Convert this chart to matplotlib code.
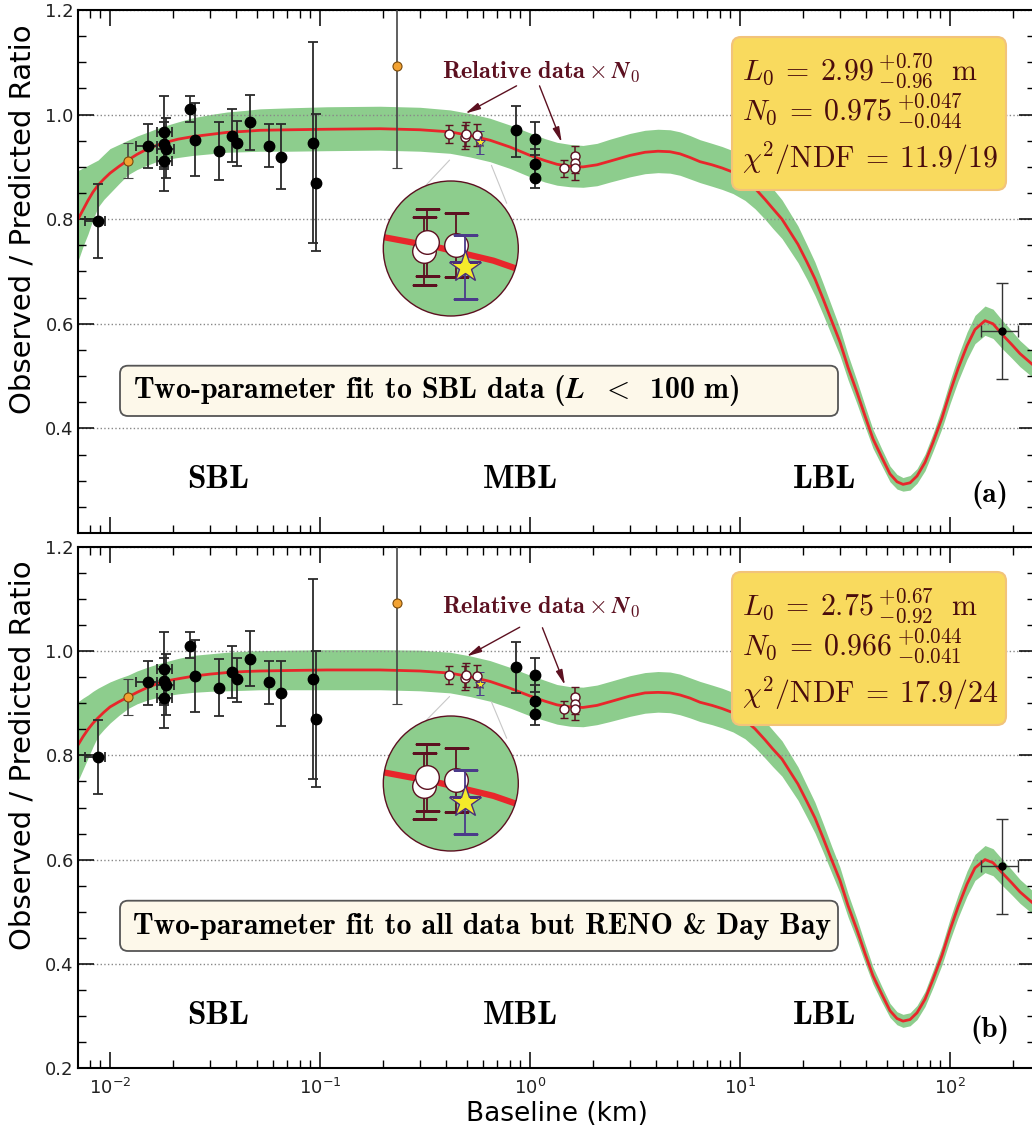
import numpy as np
import matplotlib
matplotlib.use('Agg')
import matplotlib.pyplot as plt
from matplotlib.patches import Circle, FancyBboxPatch, ConnectionPatch
from matplotlib.transforms import IdentityTransform
from matplotlib.ticker import MultipleLocator, FormatStrFormatter
from matplotlib.lines import Line2D
from matplotlib.collections import LineCollection

plt.rcParams['mathtext.fontset'] = 'cm'

W, H = 1032, 1133
GREEN = '#8dcd8d'
RED = '#e8262b'
MAROON = '#5c1020'
BOXTXT = '#4a0c0c'

# fit curves and 1-sigma bands
fit_L = [0.00704, 0.00744, 0.00786, 0.00830, 0.00877, 0.00936, 0.0100, 0.01104, 0.01218, 0.01345,
         0.01500, 0.01638, 0.01807, 0.02108, 0.02485, 0.02994, 0.03606, 0.04394, 0.05179, 0.07197,
         0.1080, 0.1931, 0.2994, 0.4159, 0.5179, 0.6449, 0.8030, 1.000, 1.179, 1.345,
         1.551, 1.788, 2.085, 2.404, 2.994, 3.528, 4.070, 4.642, 5.179, 5.780,
         6.449, 7.356, 8.209, 9.261, 10.56, 11.79, 13.15, 14.36, 15.85, 17.30,
         18.88, 20.84, 22.75, 24.85, 27.42, 29.94, 32.68, 36.07, 39.37, 42.98,
         47.43, 51.79, 55.93, 59.75, 64.55, 69.66, 76.05, 82.99, 91.6, 100.0,
         109.2, 120.5, 131.5, 146.8, 160.3, 178.8, 197.2, 215.4, 254.0]

fit_a = [0.800, 0.818, 0.836, 0.852, 0.865, 0.877, 0.888, 0.901, 0.913, 0.924,
         0.934, 0.940, 0.946, 0.953, 0.958, 0.962, 0.966, 0.968, 0.970, 0.971,
         0.972, 0.973, 0.971, 0.967, 0.960, 0.951, 0.938, 0.922, 0.912, 0.905,
         0.901, 0.900, 0.904, 0.911, 0.922, 0.928, 0.930, 0.929, 0.925, 0.918,
         0.910, 0.904, 0.898, 0.890, 0.876, 0.859, 0.838, 0.820, 0.800, 0.776,
         0.752, 0.718, 0.686, 0.648, 0.604, 0.565, 0.517, 0.469, 0.424, 0.380,
         0.344, 0.313, 0.298, 0.293, 0.296, 0.309, 0.335, 0.373, 0.420, 0.469,
         0.514, 0.558, 0.589, 0.606, 0.600, 0.578, 0.560, 0.543, 0.518]
band_a_hi = [0.893, 0.898, 0.903, 0.908, 0.913, 0.924, 0.935, 0.943, 0.951, 0.959,
             0.966, 0.972, 0.978, 0.986, 0.994, 1.000, 1.005, 1.008, 1.011, 1.013,
             1.015, 1.016, 1.014, 1.009, 1.002, 0.993, 0.980, 0.965, 0.954, 0.947,
             0.943, 0.941, 0.945, 0.953, 0.964, 0.970, 0.972, 0.971, 0.967, 0.960,
             0.952, 0.945, 0.939, 0.931, 0.916, 0.898, 0.876, 0.858, 0.837, 0.812,
             0.787, 0.751, 0.718, 0.678, 0.632, 0.591, 0.541, 0.491, 0.444, 0.398,
             0.360, 0.328, 0.312, 0.306, 0.310, 0.323, 0.351, 0.390, 0.440, 0.491,
             0.538, 0.584, 0.616, 0.634, 0.628, 0.605, 0.586, 0.568, 0.542]
band_a_lo = [0.720, 0.748, 0.772, 0.800, 0.823, 0.838, 0.850, 0.868, 0.885, 0.895,
             0.903, 0.909, 0.914, 0.918, 0.922, 0.925, 0.928, 0.929, 0.930, 0.930,
             0.931, 0.932, 0.930, 0.926, 0.919, 0.910, 0.897, 0.881, 0.871, 0.865,
             0.862, 0.861, 0.864, 0.871, 0.881, 0.887, 0.889, 0.888, 0.884, 0.877,
             0.870, 0.863, 0.857, 0.849, 0.836, 0.820, 0.800, 0.782, 0.763, 0.740,
             0.717, 0.685, 0.654, 0.618, 0.576, 0.539, 0.493, 0.447, 0.404, 0.362,
             0.328, 0.298, 0.284, 0.280, 0.282, 0.295, 0.319, 0.356, 0.400, 0.447,
             0.490, 0.532, 0.562, 0.578, 0.572, 0.551, 0.534, 0.518, 0.494]

fit_b = [0.820, 0.836, 0.850, 0.862, 0.872, 0.883, 0.893, 0.903, 0.912, 0.921,
         0.930, 0.936, 0.942, 0.947, 0.952, 0.956, 0.959, 0.961, 0.962, 0.963,
         0.964, 0.964, 0.962, 0.958, 0.951, 0.942, 0.929, 0.914, 0.904, 0.897,
         0.893, 0.892, 0.896, 0.903, 0.914, 0.920, 0.921, 0.920, 0.916, 0.910,
         0.902, 0.896, 0.890, 0.882, 0.868, 0.851, 0.830, 0.812, 0.793, 0.769,
         0.745, 0.711, 0.680, 0.642, 0.598, 0.560, 0.512, 0.465, 0.420, 0.377,
         0.341, 0.310, 0.295, 0.290, 0.293, 0.306, 0.332, 0.370, 0.416, 0.465,
         0.509, 0.553, 0.584, 0.600, 0.594, 0.573, 0.555, 0.538, 0.513]
band_b_hi = [0.903, 0.910, 0.916, 0.923, 0.929, 0.935, 0.941, 0.948, 0.954, 0.962,
             0.969, 0.974, 0.979, 0.986, 0.992, 0.995, 0.998, 1.000, 1.001, 1.002,
             1.003, 1.003, 1.002, 0.998, 0.991, 0.982, 0.969, 0.954, 0.944, 0.936,
             0.932, 0.931, 0.935, 0.942, 0.953, 0.959, 0.961, 0.960, 0.956, 0.949,
             0.942, 0.935, 0.929, 0.921, 0.906, 0.888, 0.866, 0.848, 0.828, 0.803,
             0.778, 0.742, 0.710, 0.670, 0.624, 0.585, 0.535, 0.486, 0.439, 0.394,
             0.356, 0.324, 0.308, 0.303, 0.306, 0.320, 0.347, 0.387, 0.435, 0.486,
             0.532, 0.578, 0.610, 0.627, 0.621, 0.599, 0.580, 0.562, 0.536]
band_b_lo = [0.751, 0.773, 0.795, 0.817, 0.837, 0.850, 0.862, 0.877, 0.890, 0.899,
             0.906, 0.910, 0.914, 0.918, 0.921, 0.923, 0.924, 0.925, 0.926, 0.926,
             0.926, 0.926, 0.924, 0.920, 0.913, 0.904, 0.891, 0.876, 0.867, 0.860,
             0.856, 0.855, 0.859, 0.865, 0.875, 0.881, 0.883, 0.882, 0.878, 0.872,
             0.865, 0.859, 0.853, 0.845, 0.832, 0.815, 0.795, 0.778, 0.760, 0.737,
             0.714, 0.681, 0.651, 0.615, 0.573, 0.536, 0.490, 0.445, 0.402, 0.361,
             0.326, 0.297, 0.283, 0.278, 0.281, 0.293, 0.318, 0.354, 0.398, 0.445,
             0.488, 0.530, 0.560, 0.575, 0.569, 0.549, 0.532, 0.516, 0.492]

# absolute measurements (black)
blk_L = [0.0088, 0.0151, 0.0181, 0.0181, 0.0185, 0.0181, 0.0240, 0.0253, 0.0330, 0.0381,
         0.0404, 0.0463, 0.0574, 0.0650, 0.0929, 0.0955, 0.857, 1.059, 1.059, 1.059]
blk_R = [0.797, 0.940, 0.966, 0.943, 0.935, 0.911, 1.010, 0.952, 0.930, 0.960,
         0.946, 0.985, 0.940, 0.919, 0.946, 0.870, 0.970, 0.954, 0.905, 0.879]
blk_lo = [0.071, 0.043, 0.070, 0.043, 0.057, 0.058, 0.024, 0.069, 0.055, 0.050,
          0.044, 0.052, 0.041, 0.062, 0.192, 0.131, 0.051, 0.032, 0.030, 0.020]
blk_hi = [0.070, 0.042, 0.070, 0.043, 0.059, 0.058, 0.026, 0.070, 0.055, 0.050,
          0.041, 0.053, 0.042, 0.063, 0.193, 0.131, 0.047, 0.032, 0.030, 0.020]
# the few with horizontal error bars
hx_L = [0.0088, 0.0151, 0.0181, 0.0185, 0.0181]
hx_R = [0.797, 0.940, 0.966, 0.935, 0.911]
hx_lo = [0.0012, 0.0018, 0.0014, 0.0017, 0.0014]
hx_hi = [0.0007, 0.0017, 0.0016, 0.0016, 0.0016]

# long baseline point
lbl_L = [177.0]
lbl_R = [0.587]
lbl_lo = [0.092]
lbl_hi = [0.091]
lbl_xlo = [36.0]
lbl_xhi = [34.0]

# orange points
org_L = [0.0122, 0.233]
org_R = [0.912, 1.092]
org_lo = [0.034, 0.194]
org_hi = [0.034, 0.210]

# relative data (multiplied by N0 of each fit)
rel_L = [0.410, 0.492, 0.497, 0.557, 1.455, 1.645, 1.645, 1.645]
rel_R = [0.988, 0.982, 0.988, 0.986, 0.920, 0.945, 0.931, 0.920]
rel_err = [0.018, 0.023, 0.023, 0.022, 0.017, 0.020, 0.020, 0.022]
star_L = [0.578]
star_R = [0.971]
star_err = [0.022]

N0_a, N0_b = 0.975, 0.966

fig = plt.figure(figsize=(W / 100, H / 100), dpi=100)
PX = IdentityTransform()
ax_a = fig.add_axes([78 / W, (H - 533) / H, 957 / W, 523 / H])
ax_b = fig.add_axes([78 / W, (H - 1068) / H, 957 / W, 521 / H])


def style_axes(ax):
    ax.set_xscale('log')
    ax.set_xlim(0.00704, 254)
    ax.set_ylim(0.2, 1.2)
    ax.yaxis.set_major_locator(MultipleLocator(0.2))
    ax.yaxis.set_minor_locator(MultipleLocator(0.05))
    ax.yaxis.set_major_formatter(FormatStrFormatter('%.1f'))
    ax.tick_params(which='both', direction='in', top=True, right=True,
                   labelsize=13, labelcolor='#222222')
    ax.tick_params(which='major', length=11.5, width=1.1, pad=3)
    ax.tick_params(axis='x', which='major', pad=7)
    ax.tick_params(which='minor', length=6, width=1.0)
    ax.grid(axis='y', which='major', ls=':', color='#888888', lw=1)
    for s in ax.spines.values():
        s.set_linewidth(1.5)
    ax.set_ylabel('Observed / Predicted Ratio', fontsize=21)
    ax.yaxis.set_label_coords(-0.043, 0.6)


def draw_inset(ax, cy, fit_y, n0):
    r = 67.5
    cx = 450.8
    axin = fig.add_axes([(cx - r) / W, (H - cy - r) / H, 2 * r / W, 2 * r / H])
    axin.set_xscale('log')
    axin.set_xlim(0.4196, 0.7105)
    yc = 0.9837 * n0
    axin.set_ylim(yc - 0.045, yc + 0.045)
    axin.axis('off')
    disk = Circle((0.5, 0.5), 0.5, transform=axin.transAxes, fc=GREEN, ec='none', zorder=0)
    axin.add_patch(disk)
    axin.plot(fit_L, fit_y, color=RED, lw=4.5, zorder=1)
    # only the points that fall inside the magnified window
    rr = np.array(rel_R[1:4]) * n0
    re = np.array(rel_err[1:4]) * n0
    axin.errorbar(rel_L[1:4], rr, yerr=re, fmt='o', ms=17, mfc='white', mec=MAROON, mew=1,
                  ecolor=MAROON, elinewidth=1.3, capsize=9, capthick=1.3, zorder=3)
    axin.errorbar(star_L, np.array(star_R) * n0, yerr=np.array(star_err) * n0, fmt='*',
                  ms=24, mfc='#f5ea2a', mec='#4b2f7a', mew=1, ecolor='#4b3a8a',
                  elinewidth=1.3, capsize=9, capthick=1.3, zorder=4)
    for ch in axin.get_children():
        if isinstance(ch, (Line2D, LineCollection)):
            ch.set_clip_path(disk)
    ring = Circle((0.5, 0.5), 0.5, transform=axin.transAxes, fill=False, ec=MAROON,
                  lw=1, zorder=10, clip_on=False)
    axin.add_patch(ring)
    for xa, xb in [((0.414, 0.913), (0.26, 0.909)), ((0.655, 0.903), (0.914, 0.835))]:
        cp = ConnectionPatch(xyA=xa, coordsA=ax.transData, xyB=xb, coordsB=axin.transAxes,
                             color='#c8c8c8', lw=0.8)
        ax.add_artist(cp)


def draw_panel(ax, fit_y, hi, lo, n0, dy, box_lines, fit_text, tag, arrows):
    style_axes(ax)
    ax.fill_between(fit_L, lo, hi, color=GREEN, lw=0, zorder=1)
    ax.plot(fit_L, fit_y, color=RED, lw=2, zorder=2)

    ax.errorbar(blk_L, blk_R, yerr=[blk_lo, blk_hi], fmt='o', ms=7.5, mfc='black', mec='black',
                ecolor='#2a2a2a', elinewidth=1.3, capsize=3.5, capthick=1.3, zorder=4)
    ax.errorbar(hx_L, hx_R, xerr=[hx_lo, hx_hi], fmt='none', ecolor='#2a2a2a',
                elinewidth=1.3, capsize=3.5, capthick=1.3, zorder=4)
    ax.errorbar(lbl_L, lbl_R, yerr=[lbl_lo, lbl_hi], xerr=[lbl_xlo, lbl_xhi], fmt='o', ms=5,
                mfc='black', mec='black', ecolor='#333333', elinewidth=1.0, capsize=4,
                capthick=1.0, zorder=4)
    ax.errorbar(org_L, org_R, yerr=[org_lo, org_hi], fmt='o', ms=6.5, mfc='#f2a232',
                mec='#7a4a0a', mew=0.8, ecolor='#444444', elinewidth=1.2, capsize=3.5,
                capthick=1.2, zorder=4)

    rr = np.array(rel_R) * n0
    re = np.array(rel_err) * n0
    ax.errorbar(rel_L, rr, yerr=re, fmt='o', ms=6.5, mfc='white', mec=MAROON, mew=1,
                ecolor=MAROON, elinewidth=1.1, capsize=3, capthick=1.1, zorder=5)
    ax.errorbar(star_L, np.array(star_R) * n0, yerr=np.array(star_err) * n0, fmt='*', ms=8,
                mfc='#f5ea2a', mec='#4b2f7a', mew=0.7, ecolor='#4b3a8a', elinewidth=1.1,
                capsize=3, capthick=1.1, zorder=5)

    # "Relative data x N0" with arrows
    ax.text(540.8, H - 71.7 - dy, r'$\mathbf{Relative\ data}\times\mathbfit{N}_0$',
            transform=PX, fontsize=17.5, color=MAROON, ha='center', va='center', zorder=8)
    for start, end in arrows:
        ax.annotate('', xy=end, xytext=start, zorder=8,
                    arrowprops=dict(arrowstyle='-|>,head_length=0.9,head_width=0.2',
                                    color=MAROON, lw=1, shrinkA=0, shrinkB=0))

    # parameter box
    ax.add_patch(FancyBboxPatch((732, H - 190 - dy), 274, 153,
                                boxstyle='round,pad=0,rounding_size=9', transform=PX,
                                fc='#f9da5e', ec='#f2c37a', lw=1.5, zorder=6, clip_on=False))
    for (yb, s) in zip([81, 121, 168], box_lines):
        ax.text(742, H - yb - dy, s, transform=PX, fontsize=21.5, color=BOXTXT,
                ha='left', va='baseline', zorder=7)

    # fit description box
    ax.add_patch(FancyBboxPatch((120, H - 416 - dy), 718, 50.3,
                                boxstyle='round,pad=0,rounding_size=8', transform=PX,
                                fc='#fdf8ea', ec='#555555', lw=1.3, zorder=6, clip_on=False))
    ax.text(133, H - 391 - dy, fit_text, transform=PX, fontsize=21.5, family='cmb10',
            ha='left', va='center', zorder=7)

    for xx, lab in [(218, 'SBL'), (520, 'MBL'), (825, 'LBL')]:
        ax.text(xx, H - 480 - dy, lab, transform=PX, fontsize=24, family='cmb10',
                ha='center', va='center', zorder=7)
    ax.text(990, H - 495 - dy, tag, transform=PX, fontsize=21, family='cmb10',
            ha='center', va='center', zorder=7)


draw_panel(ax_a, fit_a, band_a_hi, band_a_lo, N0_a, 0,
           [r'$L_0\:=\:2.99\,^{+0.70}_{-0.96}\ \ \mathrm{m}$',
            r'$N_0\:=\:0.975\,^{+0.047}_{-0.044}$',
            r'$\chi^2/\mathrm{NDF}\:=\:11.9/19$'],
           r'Two-parameter fit to SBL data ($\mathbfit{L}\ \ <\,$ 100 m)', '(a)',
           [((0.863, 1.055), (0.492, 1.002)), ((1.110, 1.055), (1.416, 0.947))])
draw_panel(ax_b, fit_b, band_b_hi, band_b_lo, N0_b, 535,
           [r'$L_0\:=\:2.75\,^{+0.67}_{-0.92}\ \ \mathrm{m}$',
            r'$N_0\:=\:0.966\,^{+0.044}_{-0.041}$',
            r'$\chi^2/\mathrm{NDF}\:=\:17.9/24$'],
           'Two-parameter fit to all data but RENO & Day Bay', '(b)',
           [((0.893, 1.046), (0.499, 0.990)), ((1.146, 1.045), (1.467, 0.935))])

ax_a.set_yticks([0.2, 0.4, 0.6, 0.8, 1.0, 1.2])
ax_a.set_yticklabels(['', '0.4', '0.6', '0.8', '1.0', '1.2'])
ax_a.tick_params(labelbottom=False)
ax_b.set_xlabel('Baseline (km)', fontsize=19, labelpad=2)

draw_inset(ax_a, 248.5, fit_a, N0_a)
draw_inset(ax_b, 783.5, fit_b, N0_b)

fig.savefig('out.png', dpi=100)
